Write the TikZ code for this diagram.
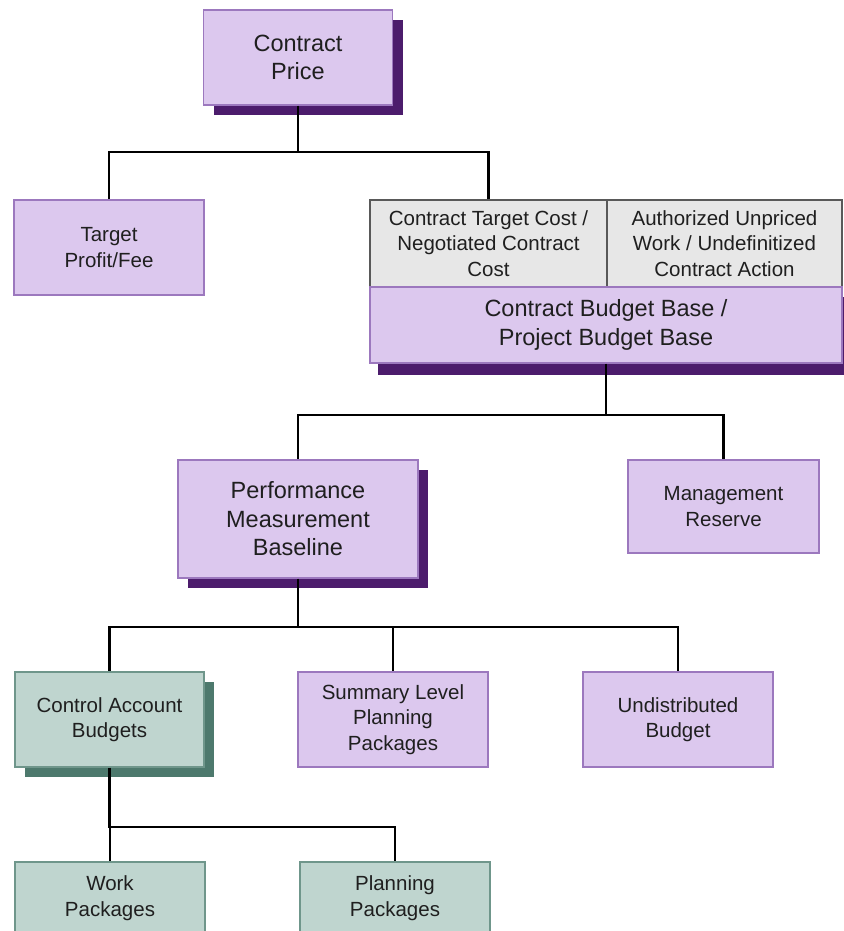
\documentclass[tikz,border=0pt]{standalone}
\usepackage{fontspec}
\setmainfont{Liberation Sans}
\usetikzlibrary{shadows}

\definecolor{lilac}{HTML}{DCC8EE}
\definecolor{lilacline}{HTML}{9C78BE}
\definecolor{plum}{HTML}{4C1C6C}
\definecolor{sage}{HTML}{BFD5CF}
\definecolor{sageline}{HTML}{6F968B}
\definecolor{pine}{HTML}{4D796D}
\definecolor{cellgray}{HTML}{E7E7E7}

\tikzstyle{budget} = [rectangle, minimum width=190pt, minimum height=95pt, inner sep=0pt, text centered, align=center, draw=lilacline, line width=1.4pt, fill=lilac, text=black!88, font=\fontsize{20.5}{25.5}\selectfont]
\tikzstyle{keybox} = [budget, font=\fontsize{23.5}{28.5}\selectfont, drop shadow={shadow xshift=10pt, shadow yshift=-10pt, fill=plum, opacity=1}]
\tikzstyle{cell} = [budget, draw=black!65, fill=cellgray]
\tikzstyle{account} = [budget, draw=sageline, fill=sage]
\tikzstyle{link} = [line width=2.6pt, black]

\begin{document}
\begin{tikzpicture}[x=1pt, y=-1pt]
\useasboundingbox (0,0) rectangle (843,931);

% Nodes
\node (cp) [keybox, minimum width=189pt] at (298,57.5) {Contract\\Price};
\node (tpf) [budget] at (109,247.5) {Target\\Profit/Fee};
\node (ctc) [cell, minimum width=237pt, minimum height=87pt] at (488.5,243.5) {Contract Target Cost /\\Negotiated Contract\\Cost};
\node (auw) [cell, minimum width=235pt, minimum height=87pt] at (724.5,243.5) {Authorized Unpriced\\Work / Undefinitized\\Contract Action};
\node (cbb) [keybox, minimum width=472pt, minimum height=76pt, drop shadow={shadow xshift=8pt, shadow yshift=-12pt, fill=plum, opacity=1}] at (606,325) {Contract Budget Base /\\Project Budget Base};
\node (pmb) [keybox, minimum width=240pt, minimum height=118pt] at (298,519) {Performance\\Measurement\\Baseline};
\node (mr) [budget, minimum width=191pt, minimum height=93pt] at (723.5,506.5) {Management\\Reserve};
\node (cab) [account, minimum width=189pt, drop shadow={shadow xshift=10pt, shadow yshift=-10pt, fill=pine, opacity=1}] at (109.5,719.5) {Control Account\\Budgets};
\node (slpp) [budget] at (393,719.5) {Summary Level\\Planning\\Packages};
\node (ub) [budget] at (678,719.5) {Undistributed\\Budget};
\node (wp) [account, minimum height=72pt] at (110,898) {Work\\Packages};
\node (pp) [account, minimum height=72pt] at (395,898) {Planning\\Packages};

\coordinate (j1) at (298,152);
\coordinate (j2) at (606,415);
\coordinate (j3) at (298,627);
\coordinate (j4) at (109.5,827);

% Arrows
\draw [link] (cp.south) -- (j1) -| (tpf.north);
\draw [link] (j1) -| (ctc.north);
\draw [link] (cbb.south) -- (j2) -| (pmb.north);
\draw [link] (j2) -| (mr.north);
\draw [link] (pmb.south) -- (j3) -| (cab.north);
\draw [link] (j3) -| (slpp.north);
\draw [link] (j3) -| (ub.north);
\draw [link] (cab.south) -- (j4) -| (wp.north);
\draw [link] (j4) -| (pp.north);

\end{tikzpicture}
\end{document}
